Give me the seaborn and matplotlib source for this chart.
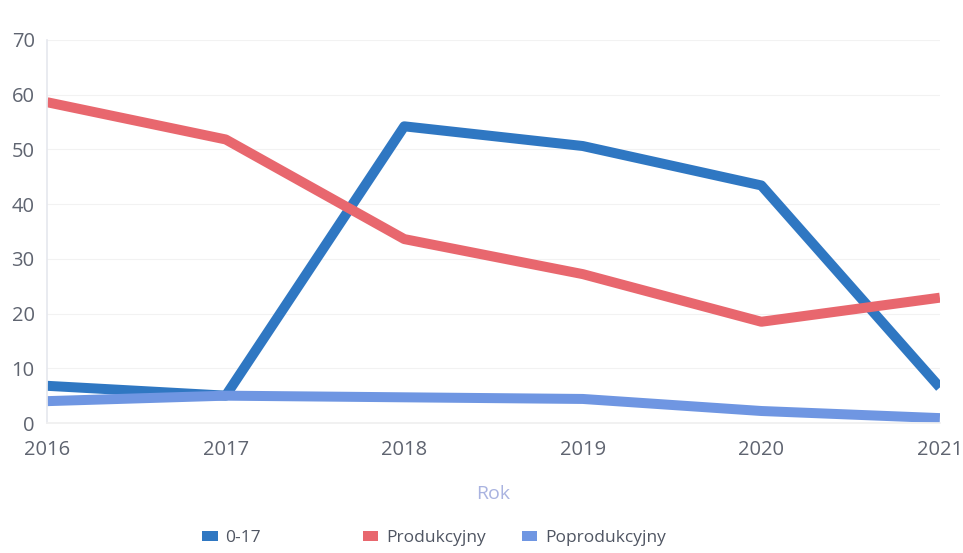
import pandas as pd
import seaborn as sns
import matplotlib.pyplot as plt
from matplotlib.patches import Patch

sns.set_theme(style="white")
plt.rcParams['font.family'] = ['Open Sans', 'DejaVu Sans']

# Dane
years = [2016, 2017, 2018, 2019, 2020, 2021]
grupa_0_17 = [6.8, 5.0, 54.2, 50.6, 43.4, 6.5]
produkcyjny = [58.6, 51.8, 33.6, 27.2, 18.5, 22.9]
poprodukcyjny = [4.0, 5.0, 4.7, 4.4, 2.2, 0.9]
series_names = ["0-17", "Produkcyjny", "Poprodukcyjny"]
colors = ["#2f77c2", "#e8676e", "#6f96e2"]

df = pd.DataFrame({
    "Rok": years * 3,
    "value": grupa_0_17 + produkcyjny + poprodukcyjny,
    "grupa": [n for n in series_names for _ in years],
})

fig = plt.figure(figsize=(9.63, 5.53), dpi=100)
ax = fig.add_axes([0.049, 0.235, 0.927, 0.693])

sns.lineplot(data=df, x="Rok", y="value", hue="grupa", palette=colors,
             linewidth=7.2, legend=False, ax=ax, solid_capstyle="butt")

ax.set_xlim(2016, 2021)
ax.set_ylim(0, 70)
ax.set_xticks(years)
ax.set_yticks(range(0, 71, 10))
ax.tick_params(axis="x", labelsize=14.5, colors="#5f6470", pad=12, length=0)
ax.tick_params(axis="y", labelsize=14.5, colors="#5f6470", pad=9, length=0)
ax.set_ylabel("")
ax.set_xlabel("Rok", fontsize=14, color="#a9b3e0", labelpad=18)
ax.grid(axis="y", color="#f2f2f2", linewidth=0.8)

for side in ["top", "right"]:
    ax.spines[side].set_visible(False)
ax.spines["left"].set_color("#e6e8ee")
ax.spines["bottom"].set_color("#f0f0f0")

# legenda - każda pozycja osobno, jak w oryginale
legend_x = [0.210, 0.377, 0.542]
for name, c, lx in zip(series_names, colors, legend_x):
    leg = fig.legend([Patch(facecolor=c, edgecolor="none")], [name],
                     loc="center left", bbox_to_anchor=(lx, 1 - 538 / 553),
                     frameon=False, fontsize=12.5, handlelength=0.88,
                     handleheight=0.5, handletextpad=0.45, borderpad=0,
                     borderaxespad=0, labelcolor="#4f5562")

plt.savefig("out.png", dpi=100)
